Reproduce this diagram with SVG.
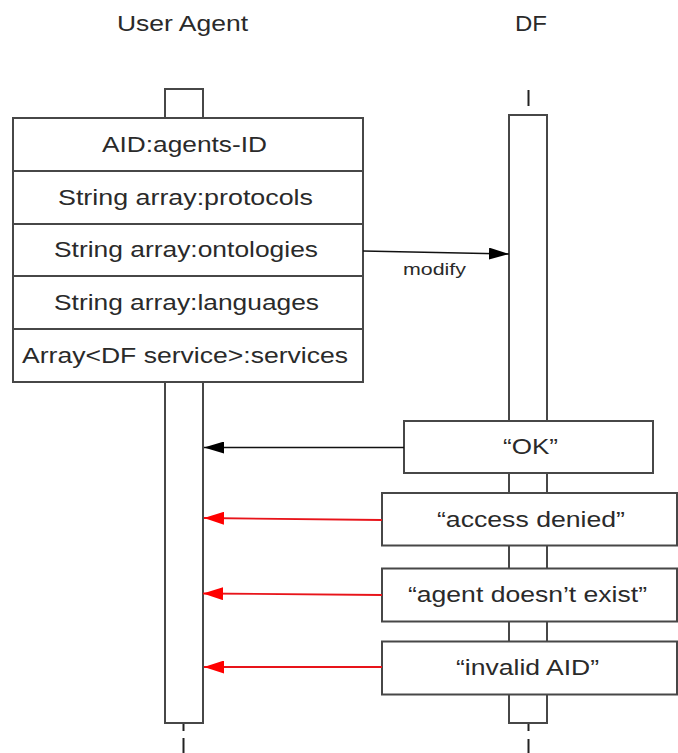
<svg xmlns="http://www.w3.org/2000/svg" width="678" height="753" viewBox="0 0 678 753">
  <style>
    .box { fill: #ffffff; stroke: #474747; stroke-width: 2; }
    .life { stroke: #222222; stroke-width: 2; fill: none; }
    .lbl { font-family: "Liberation Sans", Arial, sans-serif; font-size: 22px; fill: #2a2a2a; text-anchor: start; }
    .small { font-size: 16.5px; }
    .msg { stroke: #111111; stroke-width: 1.6; fill: none; }
    .err { stroke: #e8141a; stroke-width: 1.8; fill: none; }
  </style>
  <defs>
    <marker id="headBlack" viewBox="0 0 20 12" refX="20" refY="6" markerWidth="20" markerHeight="12" markerUnits="userSpaceOnUse" orient="auto">
      <path d="M0,0 L20,6 L0,12 Z" fill="#000000"/>
    </marker>
    <marker id="headRed" viewBox="0 0 20 13" refX="20" refY="6.5" markerWidth="20" markerHeight="13" markerUnits="userSpaceOnUse" orient="auto">
      <path d="M0,0 L20,6.5 L0,13 Z" fill="#ff0000"/>
    </marker>
  </defs>

  <rect width="678" height="753" fill="#ffffff"/>

  <!-- lifeline headers -->
  <text class="lbl" x="117" y="31" textLength="131" lengthAdjust="spacingAndGlyphs">User Agent</text>
  <text class="lbl" x="515" y="31" textLength="32" lengthAdjust="spacingAndGlyphs">DF</text>

  <!-- User Agent lifeline and activation -->
  <g id="user-agent">
    <rect class="box" x="165" y="89" width="38" height="634"/>
    <line class="life" x1="183.5" y1="724" x2="183.5" y2="731"/>
    <line class="life" x1="183.5" y1="738" x2="183.5" y2="753"/>
  </g>

  <!-- DF lifeline and activation -->
  <g id="df">
    <line class="life" x1="528.5" y1="90" x2="528.5" y2="106"/>
    <rect class="box" x="509" y="115" width="38" height="608"/>
    <line class="life" x1="528.5" y1="724" x2="528.5" y2="731"/>
    <line class="life" x1="528.5" y1="739" x2="528.5" y2="753"/>
  </g>

  <!-- agent description record -->
  <g id="agent-description">
    <rect class="box" x="13" y="118" width="350" height="53"/>
    <text class="lbl" x="102" y="152" textLength="165" lengthAdjust="spacingAndGlyphs">AID:agents-ID</text>
    <rect class="box" x="13" y="171" width="350" height="53"/>
    <text class="lbl" x="58" y="205" textLength="255" lengthAdjust="spacingAndGlyphs">String array:protocols</text>
    <rect class="box" x="13" y="224" width="350" height="52"/>
    <text class="lbl" x="54" y="257" textLength="264" lengthAdjust="spacingAndGlyphs">String array:ontologies</text>
    <rect class="box" x="13" y="276" width="350" height="53"/>
    <text class="lbl" x="54" y="310" textLength="265" lengthAdjust="spacingAndGlyphs">String array:languages</text>
    <rect class="box" x="13" y="329" width="350" height="53"/>
    <text class="lbl" x="22" y="363" textLength="326" lengthAdjust="spacingAndGlyphs">Array&lt;DF service&gt;:services</text>
  </g>

  <!-- reply boxes -->
  <g id="reply-ok">
    <rect class="box" x="404" y="421" width="249" height="52"/>
    <text class="lbl" x="503" y="454" textLength="55" lengthAdjust="spacingAndGlyphs">“OK”</text>
  </g>
  <g id="reply-access-denied">
    <rect class="box" x="382" y="493" width="295" height="52.5"/>
    <text class="lbl" x="437" y="527" textLength="188" lengthAdjust="spacingAndGlyphs">“access denied”</text>
  </g>
  <g id="reply-agent-missing">
    <rect class="box" x="382" y="568.5" width="295" height="53"/>
    <text class="lbl" x="408" y="602" textLength="239" lengthAdjust="spacingAndGlyphs">“agent doesn’t exist”</text>
  </g>
  <g id="reply-invalid-aid">
    <rect class="box" x="382" y="641.5" width="295" height="53"/>
    <text class="lbl" x="456" y="675" textLength="143" lengthAdjust="spacingAndGlyphs">“invalid AID”</text>
  </g>

  <!-- messages -->
  <g id="connectors">
    <line class="msg" x1="363" y1="251" x2="509" y2="254" marker-end="url(#headBlack)"/>
    <text class="lbl small" x="403" y="275" textLength="63" lengthAdjust="spacingAndGlyphs">modify</text>
    <line class="msg" x1="404" y1="447.5" x2="204" y2="447.5" marker-end="url(#headBlack)"/>
    <line class="err" x1="382" y1="520" x2="204" y2="518" marker-end="url(#headRed)"/>
    <line class="err" x1="382" y1="595" x2="203" y2="593.5" marker-end="url(#headRed)"/>
    <line class="err" x1="382" y1="667" x2="204" y2="667" marker-end="url(#headRed)"/>
  </g>
</svg>
